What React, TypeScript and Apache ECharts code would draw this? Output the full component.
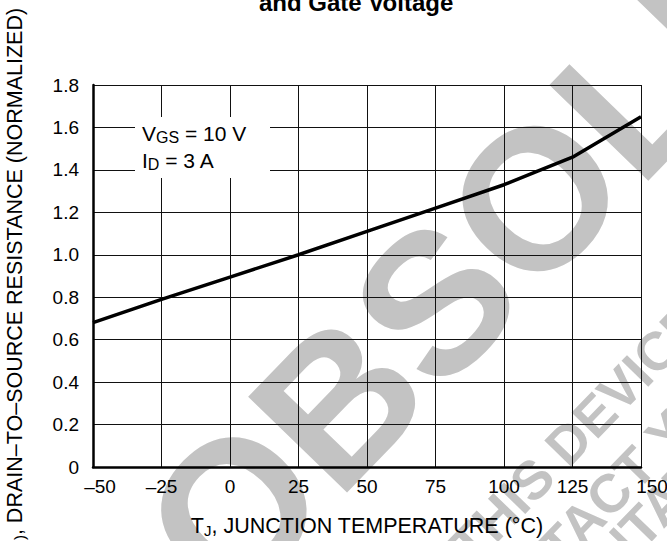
import React, { useEffect, useRef } from 'react';
import * as echarts from 'echarts';

// Junction temperature (°C) and normalized on-resistance
const temperatures = [-50, -25, 0, 25, 50, 75, 100, 112.5, 125, 137.5, 150];
const resistance = [0.68, 0.79, 0.895, 1.0, 1.11, 1.22, 1.33, 1.395, 1.46, 1.555, 1.65];

const xMin = -50;
const xMax = 150;
const xStep = 25;
const yMin = 0;
const yMax = 1.8;
const yStep = 0.2;

const titleText = 'and Gate Voltage';
const xName = ['T', 'J', ', JUNCTION TEMPERATURE (°C)'];
const yName = ['R', 'DS(on)', ', DRAIN–TO–SOURCE RESISTANCE (NORMALIZED)'];
const noteLines = [
  ['V', 'GS', ' = 10 V'],
  ['I', 'D', ' = 3 A'],
];
const watermarkMain = 'OBSOLETE';
const watermarkLines = ['THIS DEVICE IS OBSOLETE', 'PLEASE CONTACT YOUR', 'REPRESENTATIVE FOR INFORMATION'];

const FONT = "'Liberation Sans', Arial, Helvetica, sans-serif";
const WM = '#c3c3c3';

export default function App() {
  const ref = useRef<HTMLDivElement>(null);

  useEffect(() => {
    if (!ref.current) return;
    const chart = echarts.init(ref.current, null, { renderer: 'svg' });
    const data = temperatures.map((t, i) => [t, resistance[i]]);
    const ang = (46 * Math.PI) / 180;
    const wmOffsets = [
      [0, 0],
      [-290, 65],
      [-166, 110],
    ];

    chart.setOption({
      animation: false,
      backgroundColor: '#ffffff',
      title: {
        text: titleText,
        left: 259,
        top: -10,
        padding: 0,
        textStyle: { fontFamily: FONT, fontWeight: 'bold', fontSize: 24, color: '#000' },
      },
      grid: { left: 93, right: 26, top: 85, bottom: 74, containLabel: false, outerBoundsMode: 'none' },
      xAxis: {
        type: 'value',
        min: xMin,
        max: xMax,
        interval: xStep,
        axisLine: { show: true, onZero: false, lineStyle: { color: '#000', width: 2.5 } },
        axisTick: { show: false },
        splitLine: { show: true, lineStyle: { color: '#111', width: 1 } },
        axisLabel: {
          margin: 10,
          fontSize: 19,
          fontFamily: FONT,
          color: '#000',
          formatter: (v: number) => {
            const s = v < 0 ? '–' + Math.abs(v) : String(v);
            if (v === xMin) return '{first|' + s + '}';
            if (v === xMax) return '{last|' + s + '}';
            return s;
          },
          rich: {
            first: { fontSize: 19, fontFamily: FONT, color: '#000', padding: [0, 0, 0, 14] },
            last: { fontSize: 19, fontFamily: FONT, color: '#000', padding: [0, 0, 0, 22] },
          },
        },
        name: '{n|' + xName[0] + '}{s|' + xName[1] + '}{n|' + xName[2] + '}',
        nameLocation: 'middle',
        nameGap: 47,
        nameTextStyle: {
          rich: {
            n: { fontSize: 21.5, fontFamily: FONT, color: '#000' },
            s: { fontSize: 15, fontFamily: FONT, color: '#000', padding: [9, 0, 0, 0] },
          },
        },
      },
      yAxis: {
        type: 'value',
        min: yMin,
        max: yMax,
        interval: yStep,
        axisLine: { show: true, onZero: false, lineStyle: { color: '#000', width: 2.5 } },
        axisTick: { show: false },
        splitLine: { show: true, lineStyle: { color: '#111', width: 1 } },
        axisLabel: {
          margin: 14,
          fontSize: 19,
          fontFamily: FONT,
          color: '#000',
          formatter: (v: number) => (v === 0 ? '0' : v.toFixed(1)),
        },
        name: '{n|' + yName[0] + '}{s|' + yName[1] + '}{n|' + yName[2] + '}',
        nameLocation: 'middle',
        nameGap: 66,
        nameTextStyle: {
          padding: [0, 54, 0, 0],
          rich: {
            n: { fontSize: 21.5, fontFamily: FONT, color: '#000' },
            s: { fontSize: 15, fontFamily: FONT, color: '#000', padding: [9, 0, 0, 0] },
          },
        },
      },
      graphic: [
        {
          type: 'text',
          x: 562,
          y: 170,
          rotation: ang,
          z: -10,
          silent: true,
          style: {
            text: watermarkMain,
            font: 'bold 200px ' + FONT,
            fill: WM,
            align: 'center',
            verticalAlign: 'middle',
            textAlign: 'center',
            textVerticalAlign: 'middle',
          },
        },
        {
          type: 'group',
          x: 459,
          y: 555,
          rotation: ang,
          z: -10,
          silent: true,
          children: watermarkLines.map((t, i) => ({
            type: 'text',
            x: wmOffsets[i][0],
            y: wmOffsets[i][1],
            z: -10,
            style: {
              text: t,
              font: 'bold 54px ' + FONT,
              fill: WM,
              align: 'left',
              verticalAlign: 'middle',
              textAlign: 'left',
              textVerticalAlign: 'middle',
            },
          })),
        },
        {
          type: 'rect',
          x: 135,
          y: 117,
          z: 5,
          silent: true,
          shape: { width: 135, height: 61 },
          style: { fill: '#ffffff' },
        },
        ...noteLines.map((ln, i) => ({
          type: 'text',
          x: 142,
          y: 133 + i * 27,
          z: 6,
          silent: true,
          style: {
            text: '{n|' + ln[0] + '}{s|' + ln[1] + '}{n|' + ln[2] + '}',
            align: 'left',
            verticalAlign: 'middle',
            textAlign: 'left',
            textVerticalAlign: 'middle',
            rich: {
              n: { fontSize: 21, fontFamily: FONT, fill: '#000', color: '#000' },
              s: { fontSize: 16, fontFamily: FONT, fill: '#000', color: '#000', padding: [9, 0, 0, 0] },
            },
          },
        })),
      ],
      series: [
        {
          type: 'line',
          data,
          showSymbol: false,
          symbol: 'none',
          smooth: false,
          z: 10,
          lineStyle: { color: '#000', width: 3.5 },
        },
      ],
    });

    return () => chart.dispose();
  }, []);

  return (
    <div
      ref={ref}
      style={{ position: 'absolute', left: 0, top: 0, width: 667, height: 541, overflow: 'hidden' }}
    />
  );
}
